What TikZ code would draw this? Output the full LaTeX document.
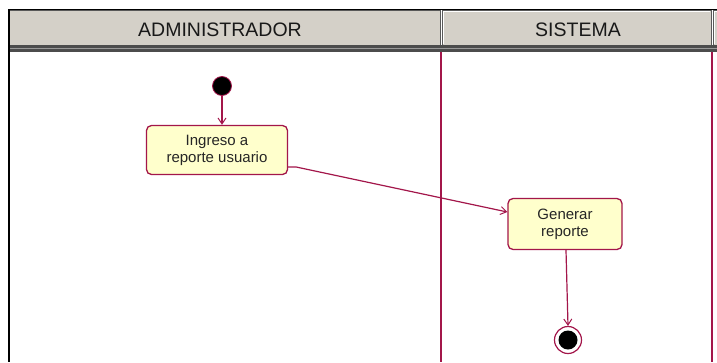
\documentclass[tikz,border=0pt]{standalone}
\usepackage{fontspec}
\setmainfont{Liberation Sans}
\usetikzlibrary{arrows.meta}
\definecolor{lanec}{HTML}{A3164A}
\definecolor{hdr}{HTML}{D4D0C8}
\definecolor{boxfill}{HTML}{FFFFCC}
\tikzset{
  act/.style={draw=lanec, line width=1.3pt, fill=boxfill, rounded corners=5pt, align=center,
    font=\fontsize{15}{17}\selectfont, text=black!85, inner sep=0pt},
  flow/.style={draw=lanec, line width=1.2pt, -{Straight Barb[length=6pt,width=8pt,line width=1pt]}},
  hdrtext/.style={font=\fontsize{19.5}{22}\selectfont, text=black!90},
  hdrcell/.style={fill=hdr, draw=gray!70!black, line width=1pt},
}
\begin{document}
\begin{tikzpicture}[x=1pt,y=-1pt]
\useasboundingbox (0,0) rectangle (717,362);
\fill[white] (0,0) rectangle (717,362);
% header cells
\draw[hdrcell] (9,10) rectangle (440,45);
\draw[hdrcell] (442,10) rectangle (711,45);
\draw[hdrcell] (713,10) rectangle (722,45);
\draw[white, line width=1pt] (443,44) -- (443,11) -- (710,11);
\draw[white, line width=1pt] (714,44) -- (714,11) -- (717,11);
\draw[black, line width=1pt] (9,9.5) -- (717,9.5);
\fill[gray!60!black] (9,45) rectangle (717,52);
\fill[gray!80] (9,47.5) rectangle (717,49);
\node[hdrtext] (h1) at (220,30) {ADMINISTRADOR};
\node[hdrtext] (h2) at (578,30) {SISTEMA};
% lanes
\draw[black, line width=1.5pt] (9,9) -- (9,362);
\draw[lanec, line width=1.3pt] (441,52) -- (441,362);
\draw[lanec, line width=1.8pt] (712,52) -- (712,362);
% nodes
\node[circle, fill=black, draw=lanec, line width=0.8pt, minimum size=19pt, inner sep=0pt] (start) at (222,86) {};
\node[act, minimum width=141pt, minimum height=49pt] (a1) at (217,150) {Ingreso a\\reporte usuario};
\node[act, minimum width=114pt, minimum height=51pt] (a2) at (565,224) {Generar\\reporte};
\node[circle, draw=lanec, line width=1.2pt, minimum size=27pt, inner sep=0pt] (end) at (568,340) {};
\node[circle, fill=black, minimum size=19pt, inner sep=0pt] (endin) at (end.center) {};
% connectors
\draw[flow] (start.south) -- (a1.north -| start.south);
\draw[flow] ([yshift=-17pt]a1.east) -- ++(8,0) -- ([yshift=12pt]a2.west);
\draw[flow] ([xshift=1pt]a2.south) -- (end.north);
\end{tikzpicture}
\end{document}
